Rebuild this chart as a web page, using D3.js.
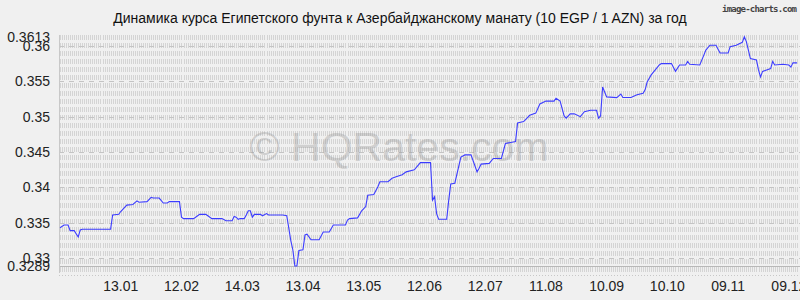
<!DOCTYPE html>
<html>
<head>
<meta charset="utf-8">
<script src="https://cdn.jsdelivr.net/npm/d3@7"></script>
<style>
  body { margin: 0; background: #f0f0f0; }
  svg { display: block; font-family: "Liberation Sans", Arial, sans-serif; }
</style>
</head>
<body>
<div id="chart"></div>
<script>
// EGP -> AZN, 10 EGP, last year
const dates = [
  "2024-12-14","2024-12-16","2024-12-18","2024-12-19","2024-12-21","2024-12-23","2024-12-24","2024-12-25",
  "2025-01-08","2025-01-09","2025-01-12","2025-01-13","2025-01-16","2025-01-19","2025-01-21","2025-01-22",
  "2025-01-26","2025-01-28","2025-01-29","2025-02-01","2025-02-03","2025-02-05","2025-02-06","2025-02-11",
  "2025-02-12","2025-02-13","2025-02-16","2025-02-18","2025-02-20","2025-02-21","2025-02-24","2025-02-25",
  "2025-02-27","2025-03-04","2025-03-06","2025-03-09","2025-03-10","2025-03-11","2025-03-12","2025-03-13",
  "2025-03-15","2025-03-16","2025-03-17","2025-03-18","2025-03-19","2025-03-20","2025-03-23","2025-03-24",
  "2025-03-26","2025-03-27","2025-04-03","2025-04-05","2025-04-07","2025-04-08","2025-04-09","2025-04-10",
  "2025-04-11","2025-04-13","2025-04-14","2025-04-15","2025-04-17","2025-04-21","2025-04-23","2025-04-26",
  "2025-04-28","2025-05-04","2025-05-05","2025-05-06","2025-05-10","2025-05-12","2025-05-14","2025-05-15",
  "2025-05-18","2025-05-20","2025-05-21","2025-05-25","2025-05-27","2025-05-29","2025-06-01","2025-06-03",
  "2025-06-07","2025-06-10","2025-06-15","2025-06-16","2025-06-17","2025-06-18","2025-06-19","2025-06-23",
  "2025-06-24","2025-06-25","2025-06-27","2025-06-30","2025-07-02","2025-07-05","2025-07-08","2025-07-09",
  "2025-07-10","2025-07-14","2025-07-16","2025-07-20","2025-07-22","2025-07-27","2025-07-28","2025-07-31",
  "2025-08-03","2025-08-06","2025-08-08","2025-08-11","2025-08-15","2025-08-16","2025-08-18","2025-08-20",
  "2025-08-21","2025-08-23","2025-08-25","2025-08-28","2025-08-30","2025-09-02","2025-09-05","2025-09-06",
  "2025-09-07","2025-09-08","2025-09-10","2025-09-15","2025-09-17","2025-09-18","2025-09-22","2025-09-25",
  "2025-09-28","2025-09-29","2025-09-30","2025-10-02","2025-10-06","2025-10-07","2025-10-12","2025-10-14",
  "2025-10-16","2025-10-19","2025-10-20","2025-10-21","2025-10-26","2025-10-28","2025-10-29","2025-10-31",
  "2025-11-03","2025-11-05","2025-11-09","2025-11-10","2025-11-13","2025-11-16","2025-11-17","2025-11-18",
  "2025-11-20","2025-11-23","2025-11-24","2025-11-25","2025-11-26","2025-11-28","2025-11-30","2025-12-01",
  "2025-12-02","2025-12-06","2025-12-09","2025-12-10","2025-12-11","2025-12-13"
];
const rates = [
  0.3343,0.3347,0.3347,0.3339,0.3339,0.3330,0.3340,0.3341,
  0.3341,0.3361,0.3362,0.3366,0.3375,0.3376,0.3381,0.3379,
  0.3380,0.3386,0.3385,0.3385,0.3378,0.3378,0.3380,0.3380,
  0.3358,0.3356,0.3356,0.3356,0.3360,0.3362,0.3362,0.3360,
  0.3356,0.3356,0.3353,0.3353,0.3359,0.3358,0.3355,0.3356,
  0.3356,0.3361,0.3367,0.3367,0.3358,0.3362,0.3362,0.3360,
  0.3363,0.3361,0.3361,0.3360,0.3325,0.3312,0.3289,0.3289,
  0.3311,0.3312,0.3333,0.3334,0.3326,0.3326,0.3337,0.3337,
  0.3347,0.3347,0.3354,0.3356,0.3357,0.3367,0.3373,0.3389,
  0.3390,0.3401,0.3408,0.3408,0.3413,0.3415,0.3418,0.3422,
  0.3425,0.3435,0.3435,0.3382,0.3387,0.3363,0.3355,0.3355,
  0.3382,0.3405,0.3406,0.3443,0.3446,0.3446,0.3422,0.3427,
  0.3433,0.3434,0.3441,0.3441,0.3462,0.3465,0.3491,0.3493,
  0.3502,0.3505,0.3518,0.3522,0.3522,0.3526,0.3522,0.3501,
  0.3498,0.3504,0.3504,0.3500,0.3507,0.3509,0.3509,0.3498,
  0.3501,0.3542,0.3528,0.3527,0.3532,0.3527,0.3527,0.3531,
  0.3533,0.3538,0.3549,0.3559,0.3573,0.3575,0.3575,0.3564,
  0.3573,0.3573,0.3578,0.3574,0.3573,0.3587,0.3594,0.3601,
  0.3601,0.3590,0.3590,0.3599,0.3601,0.3605,0.3613,0.3606,
  0.3582,0.3580,0.3566,0.3556,0.3564,0.3566,0.3568,0.3578,
  0.3573,0.3574,0.3573,0.3570,0.3576,0.3576
];
const tickDates = ["2025-01-13","2025-02-12","2025-03-14","2025-04-13","2025-05-13","2025-06-12",
  "2025-07-12","2025-08-11","2025-09-10","2025-10-10","2025-11-09","2025-12-09"];
const yTicks = [0.33, 0.335, 0.34, 0.345, 0.35, 0.355, 0.36];
const titleText = "Динамика курса Египетского фунта к Азербайджанскому манату (10 EGP / 1 AZN) за год";

const width = 800, height = 300;
const parse = d3.timeParse("%Y-%m-%d");
const data = dates.map((d, i) => ({ date: parse(d), value: rates[i] }));

const svg = d3.select("#chart").append("svg")
  .attr("width", width)
  .attr("height", height);

svg.append("rect").attr("width", width).attr("height", height).attr("fill", "#f0f0f0");

const x = d3.scaleTime()
  .domain([parse("2024-12-14"), parse("2025-12-14")])
  .range([60, 799]);

const yMin = d3.min(rates), yMax = d3.max(rates);
const y = d3.scaleLinear()
  .domain([yMin, yMax])
  .range([266, 36.7]);

const plotTop = 35, plotBottom = 273;

// dense daily grid (dashed verticals), snapped to pixels
const grid = svg.append("g");
grid.selectAll(".vgrid")
  .data(d3.timeDay.range(x.domain()[0], x.domain()[1]))
  .enter()
  .append("line")
  .attr("class", "vgrid")
  .attr("x1", d => Math.round(x(d)) + 0.5)
  .attr("x2", d => Math.round(x(d)) + 0.5)
  .attr("y1", plotTop)
  .attr("y2", plotBottom)
  .attr("stroke", "#d4d4d4")
  .attr("stroke-width", 1)
  .attr("stroke-dasharray", "5,3");

// horizontal dashed lines at round ticks
grid.selectAll(".hgrid")
  .data(yTicks)
  .enter()
  .append("line")
  .attr("x1", 59)
  .attr("x2", width)
  .attr("y1", d => Math.round(y(d)) + 0.5)
  .attr("y2", d => Math.round(y(d)) + 0.5)
  .attr("stroke", "#c4c4c4")
  .attr("stroke-dasharray", "5,5");

// min line, bottom dotted edge, left edge
grid.append("line")
  .attr("x1", 59).attr("x2", width)
  .attr("y1", Math.round(y(yMin)) + 0.5).attr("y2", Math.round(y(yMin)) + 0.5)
  .attr("stroke", "#b8b8b8");
grid.append("line")
  .attr("x1", 59).attr("x2", width)
  .attr("y1", plotBottom + 2.5).attr("y2", plotBottom + 2.5)
  .attr("stroke", "#c8c8c8")
  .attr("stroke-dasharray", "1,2");
grid.append("line")
  .attr("x1", 59.5).attr("x2", 59.5)
  .attr("y1", plotTop).attr("y2", plotBottom)
  .attr("stroke", "#c8c8c8");

// watermark
svg.append("text")
  .attr("x", 399)
  .attr("y", 161)
  .attr("text-anchor", "middle")
  .attr("font-size", "41px")
  .attr("fill", "#8a8a8a")
  .attr("opacity", 0.3)
  .text("© HQRates.com");

// rate line
const line = d3.line()
  .x(d => x(d.date))
  .y(d => y(d.value));

svg.append("path")
  .datum(data)
  .attr("fill", "none")
  .attr("stroke", "#3c3cff")
  .attr("stroke-width", 1.1)
  .attr("d", line);

// y labels
const yLabels = [yMin].concat(yTicks, [yMax]);
svg.selectAll(".ylab")
  .data(yLabels)
  .enter()
  .append("text")
  .attr("class", "ylab")
  .attr("x", 50)
  .attr("y", d => y(d))
  .attr("dy", "0.36em")
  .attr("text-anchor", "end")
  .attr("font-size", "14px")
  .attr("fill", "#222")
  .text(d => +d.toFixed(4));

// x labels
const fmt = d3.timeFormat("%d.%m");
svg.selectAll(".xlab")
  .data(tickDates.map(parse))
  .enter()
  .append("text")
  .attr("class", "xlab")
  .attr("x", d => x(d))
  .attr("y", 291)
  .attr("text-anchor", "middle")
  .attr("font-size", "14px")
  .attr("fill", "#222")
  .text(d => fmt(d));

// title
svg.append("text")
  .attr("x", 400)
  .attr("y", 23)
  .attr("text-anchor", "middle")
  .attr("font-size", "14px")
  .attr("fill", "#111")
  .text(titleText);

svg.append("text")
  .attr("x", 797)
  .attr("y", 12)
  .attr("text-anchor", "end")
  .attr("font-family", "DejaVu Sans Mono, monospace")
  .attr("font-size", "9px")
  .attr("font-weight", "bold")
  .attr("fill", "#444")
  .attr("textLength", 75)
  .text("image-charts.com");
</script>
</body>
</html>
